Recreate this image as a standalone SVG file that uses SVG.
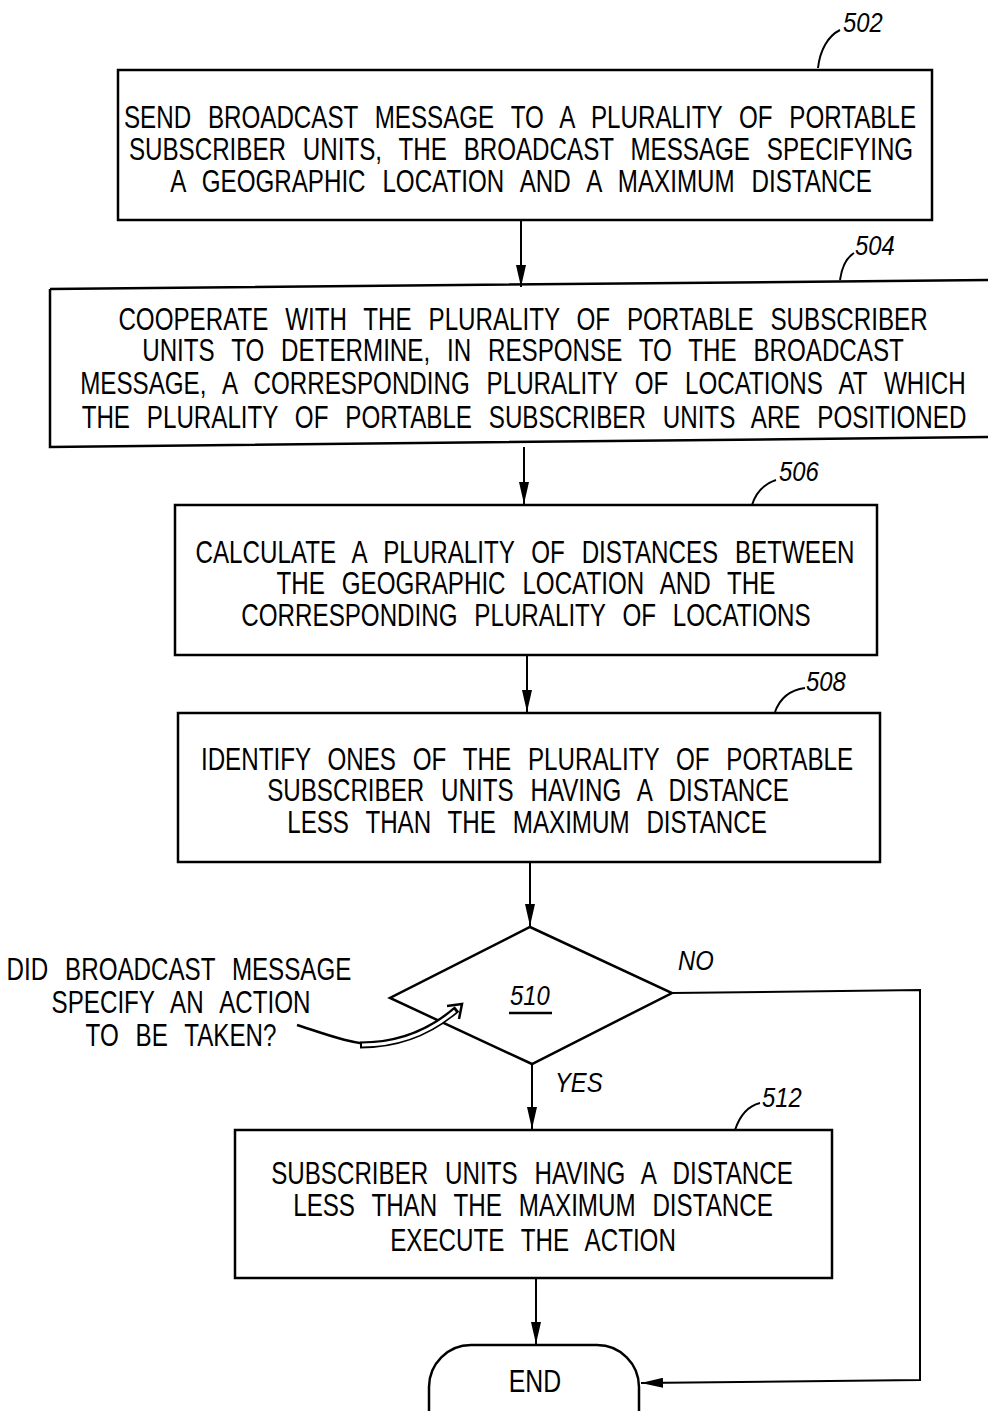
<svg xmlns="http://www.w3.org/2000/svg" width="988" height="1411" viewBox="0 0 988 1411">
<style>
.box{fill:#fff;stroke:#000;stroke-width:2.5}
.t{font-family:"Liberation Sans",Arial,sans-serif;font-size:31px;fill:#000;text-anchor:middle;word-spacing:13px}
.ref{font-family:"Liberation Sans",Arial,sans-serif;font-size:28px;font-style:italic;fill:#000}
.ln{fill:none;stroke:#000;stroke-width:2}
</style>
<defs>
<marker id="ah" markerWidth="22" markerHeight="10" refX="22" refY="5" orient="auto" markerUnits="userSpaceOnUse" viewBox="0 0 22 10">
<path d="M0,0 L22,5 L0,10 Z" fill="#000"/>
</marker>
</defs>
<rect width="988" height="1411" fill="#fff"/>
<g id="n502">
<rect class="box" x="118" y="70" width="814" height="150"/>
<text class="t" transform="translate(520,128) scale(0.78,1)">SEND BROADCAST MESSAGE TO A PLURALITY OF PORTABLE</text>
<text class="t" transform="translate(521,160) scale(0.78,1)">SUBSCRIBER UNITS, THE BROADCAST MESSAGE SPECIFYING</text>
<text class="t" transform="translate(521,192) scale(0.78,1)">A GEOGRAPHIC LOCATION AND A MAXIMUM DISTANCE</text>
<path class="ln" d="M818,68 C820,50 828,36 840,30"/>
<text class="ref" transform="translate(843,32) scale(0.85,1)">502</text>
</g>
<g id="n504">
<path class="box" d="M50,289 L988,280 M50,289 L50,447 L988,437"/>
<text class="t" transform="translate(523,330) scale(0.78,1)">COOPERATE WITH THE PLURALITY OF PORTABLE SUBSCRIBER</text>
<text class="t" transform="translate(523,361) scale(0.78,1)">UNITS TO DETERMINE, IN RESPONSE TO THE BROADCAST</text>
<text class="t" transform="translate(523,394) scale(0.78,1)">MESSAGE, A CORRESPONDING PLURALITY OF LOCATIONS AT WHICH</text>
<text class="t" transform="translate(524,428) scale(0.78,1)">THE PLURALITY OF PORTABLE SUBSCRIBER UNITS ARE POSITIONED</text>
<path class="ln" d="M840,280 C842,266 846,258 854,253"/>
<text class="ref" transform="translate(855,255) scale(0.85,1)">504</text>
</g>
<g id="n506">
<rect class="box" x="175" y="505" width="702" height="150"/>
<text class="t" transform="translate(525,563) scale(0.78,1)">CALCULATE A PLURALITY OF DISTANCES BETWEEN</text>
<text class="t" transform="translate(526,594) scale(0.78,1)">THE GEOGRAPHIC LOCATION AND THE</text>
<text class="t" transform="translate(526,626) scale(0.78,1)">CORRESPONDING PLURALITY OF LOCATIONS</text>
<path class="ln" d="M752,505 C756,492 764,484 776,480"/>
<text class="ref" transform="translate(779,481) scale(0.85,1)">506</text>
</g>
<g id="n508">
<rect class="box" x="178" y="713" width="702" height="149"/>
<text class="t" transform="translate(527,770) scale(0.78,1)">IDENTIFY ONES OF THE PLURALITY OF PORTABLE</text>
<text class="t" transform="translate(528,801) scale(0.78,1)">SUBSCRIBER UNITS HAVING A DISTANCE</text>
<text class="t" transform="translate(527,833) scale(0.78,1)">LESS THAN THE MAXIMUM DISTANCE</text>
<path class="ln" d="M775,712 C780,698 790,690 805,688"/>
<text class="ref" transform="translate(806,691) scale(0.85,1)">508</text>
</g>
<g id="n510">
<polygon class="box" points="530,927 672,993 532,1064 390,998"/>
<text class="ref" transform="translate(510,1005) scale(0.85,1)">510</text>
<line x1="509" y1="1013" x2="552" y2="1013" stroke="#000" stroke-width="2.5"/>
</g>
<g id="q510">
<text class="t" transform="translate(179,980) scale(0.78,1)">DID BROADCAST MESSAGE</text>
<text class="t" transform="translate(181,1013) scale(0.78,1)">SPECIFY AN ACTION</text>
<text class="t" transform="translate(181,1046) scale(0.78,1)">TO BE TAKEN?</text>
</g>
<g id="n512">
<rect class="box" x="235" y="1130" width="597" height="148"/>
<text class="t" transform="translate(532,1184) scale(0.78,1)">SUBSCRIBER UNITS HAVING A DISTANCE</text>
<text class="t" transform="translate(533,1216) scale(0.78,1)">LESS THAN THE MAXIMUM DISTANCE</text>
<text class="t" transform="translate(533,1251) scale(0.78,1)">EXECUTE THE ACTION</text>
<path class="ln" d="M735,1130 C740,1115 748,1106 760,1103"/>
<text class="ref" transform="translate(762,1107) scale(0.85,1)">512</text>
</g>
<g id="end">
<rect class="box" x="429" y="1345" width="210" height="110" rx="42" ry="42"/>
<text class="t" transform="translate(535,1392) scale(0.8,1)">END</text>
</g>
<g id="connectors">
<line class="ln" x1="521" y1="220" x2="521" y2="287" marker-end="url(#ah)"/>
<line class="ln" x1="524" y1="447" x2="524" y2="504" marker-end="url(#ah)"/>
<line class="ln" x1="527" y1="655" x2="527" y2="712" marker-end="url(#ah)"/>
<line class="ln" x1="530" y1="862" x2="530" y2="926" marker-end="url(#ah)"/>
<line class="ln" x1="532" y1="1064" x2="532" y2="1129" marker-end="url(#ah)"/>
<line class="ln" x1="536" y1="1278" x2="536" y2="1344" marker-end="url(#ah)"/>
<polyline class="ln" points="672,993 920,990 920,1380 641,1383" marker-end="url(#ah)"/>
<text class="ref" transform="translate(678,970) scale(0.85,1)">NO</text>
<text class="ref" transform="translate(555,1092) scale(0.85,1)">YES</text>
<path d="M297,1025 C325,1034 350,1044 380,1045" fill="none" stroke="#000" stroke-width="2.5"/>
<path d="M360,1045 C405,1045 435,1028 457,1009" fill="none" stroke="#000" stroke-width="7"/>
<path d="M362,1045 C405,1045 435,1028 455,1011" fill="none" stroke="#fff" stroke-width="3"/>
<path d="M447,1006 L462,1004 L459,1019" fill="none" stroke="#000" stroke-width="2.5"/>
</g>
</svg>
